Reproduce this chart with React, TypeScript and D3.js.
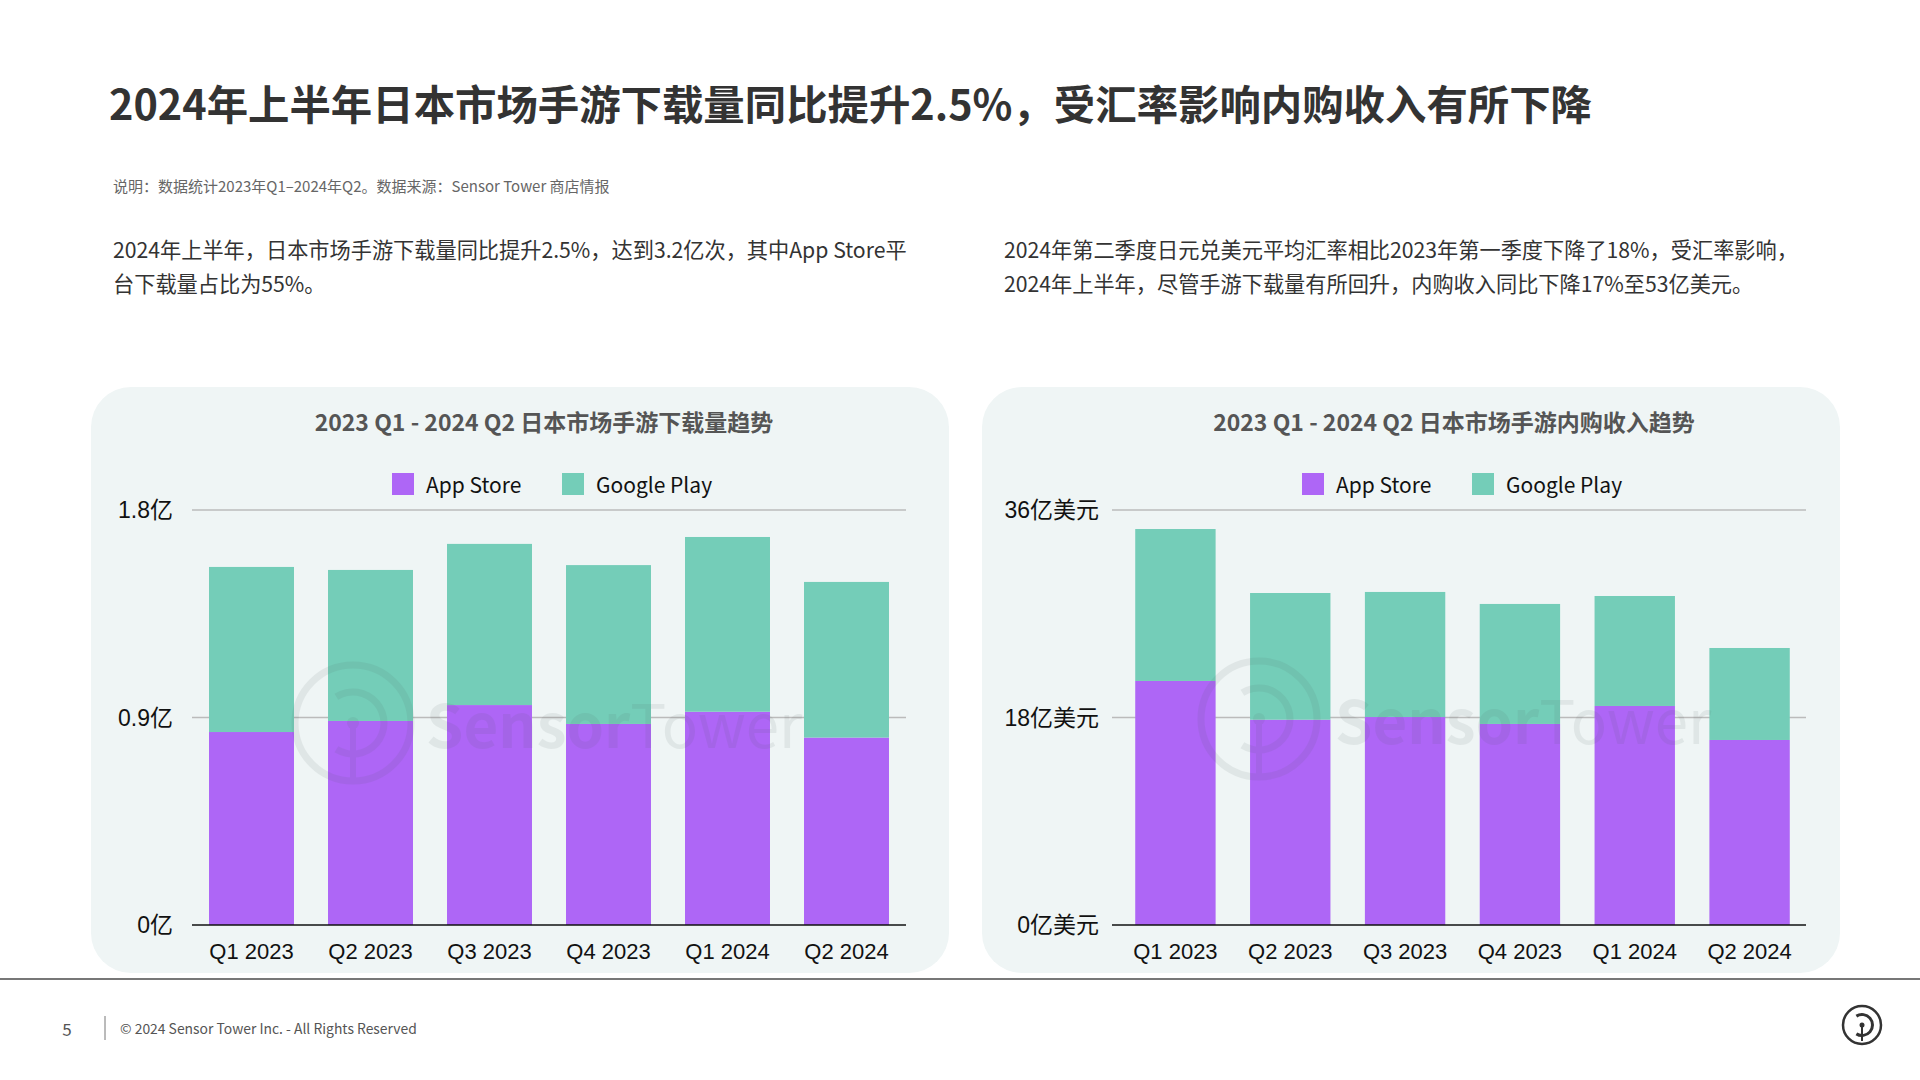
import React from "react";
import * as d3 from "d3";

const quarters = ["Q1 2023", "Q2 2023", "Q3 2023", "Q4 2023", "Q1 2024", "Q2 2024"];
const seriesNames = ["App Store", "Google Play"];
const downloadsAppStore = [0.837, 0.885, 0.954, 0.872, 0.925, 0.813];
const downloadsGooglePlay = [0.716, 0.655, 0.699, 0.689, 0.758, 0.675];
const revenueAppStore = [21.17, 17.81, 18.04, 17.44, 19.0, 16.05];
const revenueGooglePlay = [13.18, 10.99, 10.85, 10.41, 9.54, 7.98];
const downloadTicks = [0, 0.9, 1.8];
const downloadTickLabels = ["0亿", "0.9亿", "1.8亿"];
const revenueTicks = [0, 18, 36];
const revenueTickLabels = ["0亿美元", "18亿美元", "36亿美元"];

const COLORS = ["#AE66F6", "#74CDB8"];
const CJK = '"Noto Sans CJK SC", "Noto Sans", sans-serif';
const AXISFONT = '"Liberation Sans", Arial, "Noto Sans CJK SC", sans-serif';

function Watermark({ cx, cy, tx, ty }: { cx: number; cy: number; tx: number; ty: number }) {
  const r = 58;
  const ri = 31;
  const arc = d3.arc()({
    innerRadius: ri - 3.5,
    outerRadius: ri + 3.5,
    startAngle: Math.PI * 0.82,
    endAngle: Math.PI * 2.18,
  } as any) as string;
  return (
    <g opacity={0.09} fill="#4a5a5a" stroke="none">
      <circle cx={cx} cy={cy} r={r} fill="none" stroke="#4a5a5a" strokeWidth={7} />
      <path d={arc} transform={`translate(${cx},${cy}) rotate(180)`} />
      <circle cx={cx} cy={cy} r={6} />
      <rect x={cx - 3} y={cy} width={6} height={r} />
      <text x={tx} y={ty} fontFamily={CJK} fontSize={60}>
        <tspan fontWeight={700}>Sensor</tspan>
        <tspan fontWeight={400}>Tower</tspan>
      </text>
    </g>
  );
}

function BarChart(props: {
  cardX: number;
  cardW: number;
  plotX0: number;
  plotX1: number;
  bandX0: number;
  bandX1: number;
  title: string;
  appStore: number[];
  googlePlay: number[];
  ticks: number[];
  tickLabels: string[];
  labelRight: number;
  padInner: number;
  wm: { cx: number; cy: number; tx: number; ty: number };
}) {
  const { cardX, cardW, plotX0, plotX1, bandX0, bandX1, title, appStore, googlePlay, ticks, tickLabels, labelRight, padInner, wm } = props;
  const cardY = 387;
  const cardH = 586;
  const yTop = 510;
  const yBottom = 925;
  const x = d3.scaleBand().domain(quarters).range([bandX0, bandX1]).paddingInner(padInner).paddingOuter(padInner / 2);
  const y = d3.scaleLinear().domain([0, ticks[ticks.length - 1]]).range([yBottom, yTop]);
  const rows = quarters.map((q, i) => ({ q, "App Store": appStore[i], "Google Play": googlePlay[i] }));
  const stack = d3.stack<any>().keys(seriesNames)(rows);
  const center = (plotX0 + plotX1) / 2;
  return (
    <g>
      <rect x={cardX} y={cardY} width={cardW} height={cardH} rx={40} ry={40} fill="#EFF5F5" />
      <text x={center - 5} y={421} textAnchor="middle" dominantBaseline="central" fontFamily={CJK} fontWeight={700} fontSize={23} fill="#555">
        {title}
      </text>
      {seriesNames.map((s, i) => {
        const sx = center + (i === 0 ? -157 : 13);
        return (
          <g key={s}>
            <rect x={sx} y={473} width={22} height={22} fill={COLORS[i]} />
            <text x={sx + 34} y={484} dominantBaseline="central" fontFamily={CJK} fontSize={21} fill="#111">
              {s}
            </text>
          </g>
        );
      })}
      {ticks.map((t, i) =>
        i === 0 ? null : (
          <line key={t} x1={plotX0} x2={plotX1} y1={y(t)} y2={y(t)} stroke="#BBBBBB" strokeWidth={1.5} />
        )
      )}
      {stack.map((layer, li) =>
        layer.map((d, i) => (
          <rect
            key={`${li}-${i}`}
            x={x(quarters[i])}
            y={y(d[1])}
            width={x.bandwidth()}
            height={y(d[0]) - y(d[1])}
            fill={COLORS[li]}
          />
        ))
      )}
      <line x1={plotX0} x2={plotX1} y1={yBottom} y2={yBottom} stroke="#111" strokeWidth={1.5} />
      {ticks.map((t, i) => (
        <text key={t} x={labelRight} y={y(t)} textAnchor="end" dominantBaseline="central" fontFamily={AXISFONT} fontSize={23} fill="#111">
          {tickLabels[i]}
        </text>
      ))}
      {quarters.map((q) => (
        <text key={q} x={(x(q) as number) + x.bandwidth() / 2} y={951} textAnchor="middle" dominantBaseline="central" fontFamily={AXISFONT} fontSize={22} fill="#111">
          {q}
        </text>
      ))}
      <Watermark {...wm} />
    </g>
  );
}

export default function App() {
  React.useEffect(() => {
    document.body.style.margin = "0";
  }, []);
  const footerArc = d3.arc()({
    innerRadius: 9,
    outerRadius: 12,
    startAngle: Math.PI * 0.82,
    endAngle: Math.PI * 2.18,
  } as any) as string;
  return (
    <svg width={1920} height={1080} style={{ position: "absolute", left: 0, top: 0, background: "#fff" }}>
      <rect x={0} y={0} width={1920} height={1080} fill="#fff" />
      <text x={109} y={102} dominantBaseline="central" fontFamily={CJK} fontWeight={700} fontSize={41.4} fill="#333">
        2024年上半年日本市场手游下载量同比提升2.5%，受汇率影响内购收入有所下降
      </text>
      <text x={113} y={185} dominantBaseline="central" fontFamily={CJK} fontSize={15} fill="#666">
        说明：数据统计2023年Q1–2024年Q2。数据来源：Sensor Tower 商店情报
      </text>
      <text fontFamily={CJK} fontSize={21.2} fill="#333" dominantBaseline="central">
        <tspan x={113} y={248}>2024年上半年，日本市场手游下载量同比提升2.5%，达到3.2亿次，其中App Store平</tspan>
        <tspan x={113} y={282}>台下载量占比为55%。</tspan>
      </text>
      <text fontFamily={CJK} fontSize={21.2} fill="#333" dominantBaseline="central">
        <tspan x={1004} y={248}>2024年第二季度日元兑美元平均汇率相比2023年第一季度下降了18%，受汇率影响，</tspan>
        <tspan x={1004} y={282}>2024年上半年，尽管手游下载量有所回升，内购收入同比下降17%至53亿美元。</tspan>
      </text>
      <BarChart
        cardX={91}
        cardW={858}
        plotX0={192}
        plotX1={906}
        bandX0={192}
        bandX1={906}
        title="2023 Q1 - 2024 Q2 日本市场手游下载量趋势"
        appStore={downloadsAppStore}
        googlePlay={downloadsGooglePlay}
        ticks={downloadTicks}
        tickLabels={downloadTickLabels}
        labelRight={173}
        padInner={0.286}
        wm={{ cx: 353, cy: 723, tx: 426, ty: 748 }}
      />
      <BarChart
        cardX={982}
        cardW={858}
        plotX0={1112}
        plotX1={1806}
        bandX0={1118}
        bandX1={1807}
        title="2023 Q1 - 2024 Q2 日本市场手游内购收入趋势"
        appStore={revenueAppStore}
        googlePlay={revenueGooglePlay}
        ticks={revenueTicks}
        tickLabels={revenueTickLabels}
        labelRight={1099}
        padInner={0.3}
        wm={{ cx: 1259, cy: 719, tx: 1335, ty: 744 }}
      />
      <line x1={0} x2={1920} y1={979} y2={979} stroke="#777" strokeWidth={2} />
      <text x={67} y={1028} textAnchor="middle" dominantBaseline="central" fontFamily={CJK} fontSize={17} fill="#555">
        5
      </text>
      <line x1={105} x2={105} y1={1016} y2={1040} stroke="#777" strokeWidth={1} />
      <text x={120} y={1028} dominantBaseline="central" fontFamily={CJK} fontSize={13.9} fill="#555">
        © 2024 Sensor Tower Inc. - All Rights Reserved
      </text>
      <g>
        <circle cx={1862} cy={1025} r={19} fill="none" stroke="#333" strokeWidth={2.5} />
        <path d={footerArc} transform="translate(1862,1025) rotate(180)" fill="#333" />
        <circle cx={1862} cy={1025} r={2.5} fill="#333" />
        <rect x={1861} y={1025} width={2} height={16} fill="#333" />
      </g>
    </svg>
  );
}
